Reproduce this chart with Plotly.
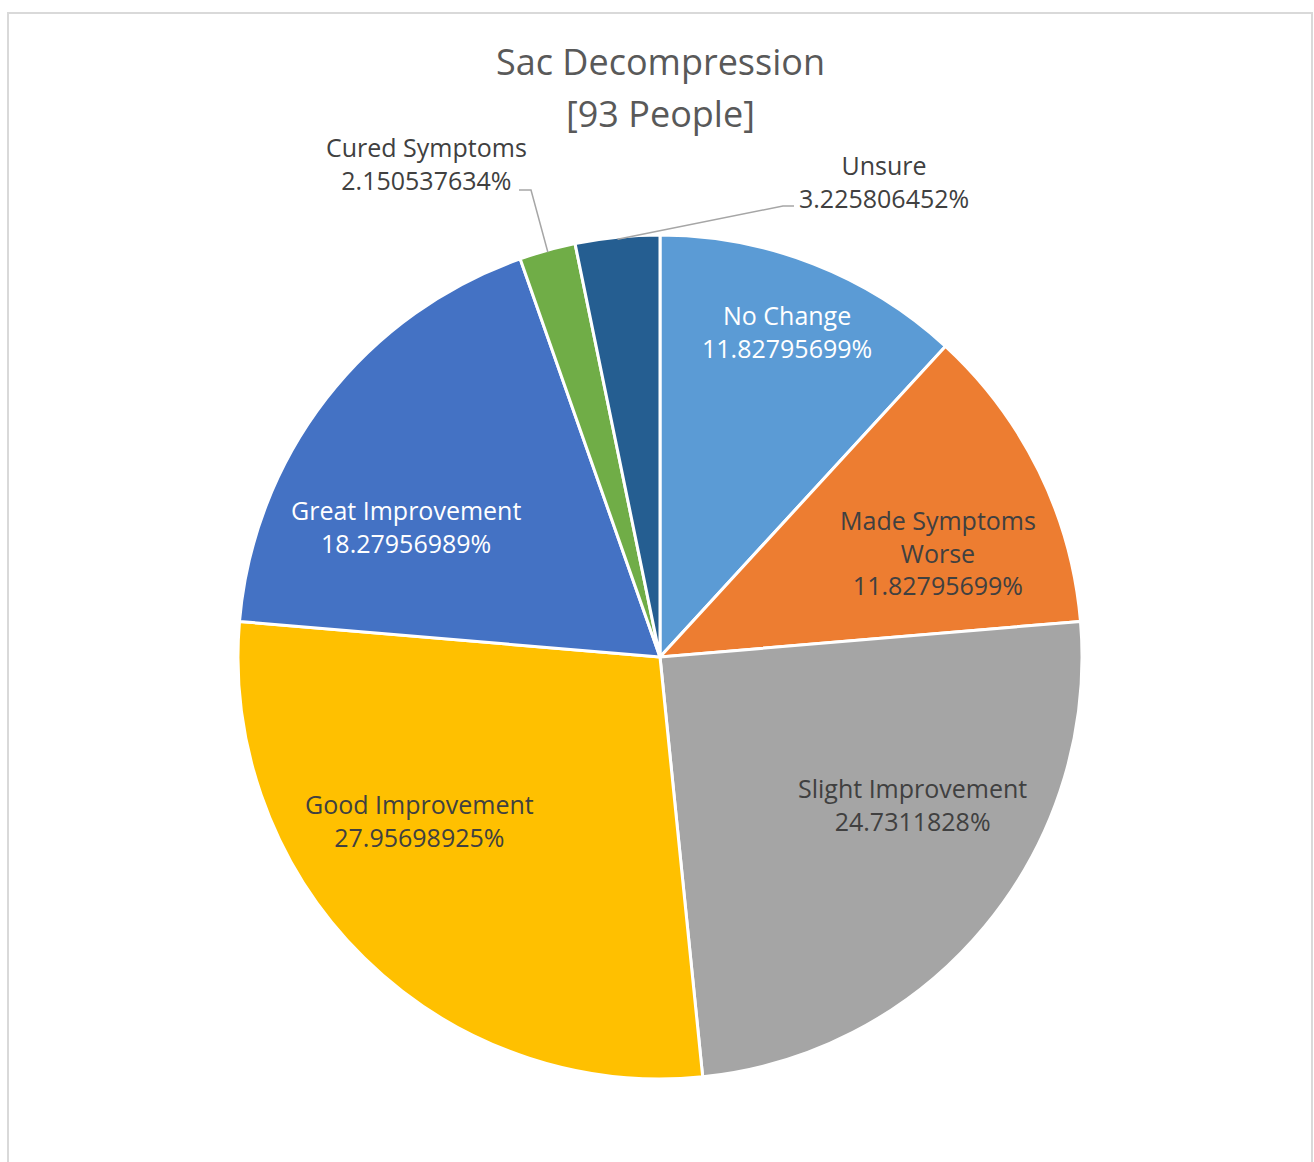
import plotly.graph_objects as go
import math

# Survey responses after sac decompression (93 respondents)
categories = ["No Change", "Made Symptoms Worse", "Slight Improvement",
              "Good Improvement", "Great Improvement", "Cured Symptoms", "Unsure"]
counts = [11, 11, 23, 26, 17, 2, 3]
label_names = ["No Change", "Made Symptoms<br>Worse", "Slight Improvement",
               "Good Improvement", "Great Improvement", "Cured Symptoms", "Unsure"]
title_lines = ["Sac Decompression", "[93 People]"]

colors = ["#5B9BD5", "#ED7D31", "#A5A5A5", "#FFC000", "#4472C4", "#70AD47", "#255E91"]
label_colors = ["#FFFFFF", "#404040", "#404040", "#404040", "#FFFFFF", "#404040", "#404040"]

W, H = 1314, 1162
CX, CY, R = 660, 657, 422          # pie centre and radius in pixels

# label block centres (pixels)
label_pos = [(787, 331), (938, 552), (912, 804), (419, 820), (406, 526),
             (426, 163), (884, 181)]
# leader line elbows for the outside labels: (elbow, end)
leaders = {5: ((531, 190), (519, 190)), 6: ((783, 206), (794, 206))}
title_y = [61, 113]


def px(x):
    return x / W


def py(y):
    return 1 - y / H


total = sum(counts)

fig = go.Figure(go.Pie(
    labels=categories,
    values=counts,
    sort=False,
    direction="clockwise",
    rotation=0,
    marker=dict(colors=colors, line=dict(color="white", width=3)),
    textinfo="none",
    hoverinfo="skip",
    showlegend=False,
    domain=dict(x=[px(CX - R), px(CX + R)], y=[py(CY + R), py(CY - R)]),
))

annotations = []
shapes = []

for line, ty in zip(title_lines, title_y):
    annotations.append(dict(
        x=px(660), y=py(ty), xref="paper", yref="paper", text=line,
        showarrow=False, xanchor="center", yanchor="middle",
        font=dict(family="Open Sans", size=36, color="#595959"),
    ))

cum = 0
for i, v in enumerate(counts):
    mid = (cum + v / 2) / total * 2 * math.pi
    cum += v
    pct = v / total * 100
    txt = f"{label_names[i]}<br>{pct:.10g}%"
    lx, ly = label_pos[i]
    annotations.append(dict(
        x=px(lx), y=py(ly), xref="paper", yref="paper",
        text=txt, showarrow=False, xanchor="center", yanchor="middle",
        font=dict(family="Open Sans", size=25, color=label_colors[i]),
    ))
    if i in leaders:
        ex = CX + (R - 2) * math.sin(mid)
        ey = CY - (R - 2) * math.cos(mid)
        (bx, by), (tx, ty) = leaders[i]
        shapes.append(dict(
            type="path", xref="paper", yref="paper",
            path=f"M {px(ex)} {py(ey)} L {px(bx)} {py(by)} L {px(tx)} {py(ty)}",
            line=dict(color="#A6A6A6", width=1.5),
        ))

# outer chart frame
shapes.append(dict(type="rect", xref="paper", yref="paper",
                   x0=px(8), x1=px(1312), y0=py(1175), y1=py(13),
                   line=dict(color="#D9D9D9", width=2), fillcolor="rgba(0,0,0,0)"))

fig.update_layout(
    width=W, height=H,
    margin=dict(l=0, r=0, t=0, b=0),
    paper_bgcolor="white",
    plot_bgcolor="white",
    annotations=annotations,
    shapes=shapes,
)

fig.write_html("out.html")
